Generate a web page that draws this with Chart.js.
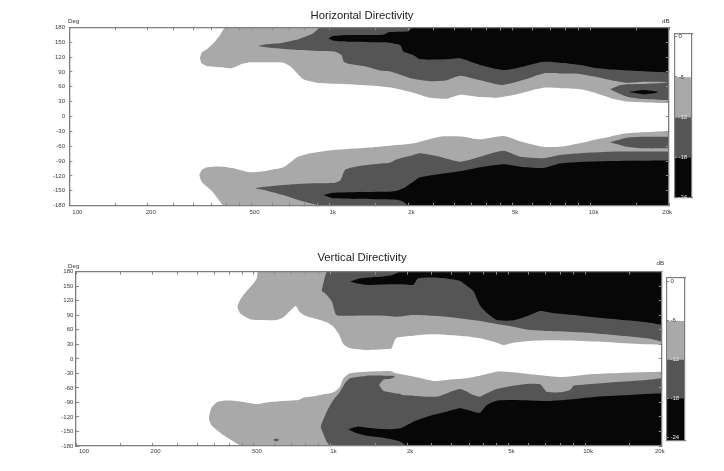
<!DOCTYPE html>
<html><head><meta charset="utf-8">
<script src="https://cdn.jsdelivr.net/npm/chart.js@4/dist/chart.umd.min.js"></script>
<style>
html,body{margin:0;padding:0;background:#fff}
body{width:724px;height:471px;overflow:hidden;position:relative;font-family:"Liberation Sans",Arial,sans-serif}
canvas{position:absolute}
.lbl{position:absolute;font-size:6.2px;line-height:7px;color:#333;white-space:nowrap}
</style></head><body>
<canvas id="hChart" width="724" height="235" style="left:0;top:0"></canvas>
<canvas id="hBar" width="19" height="179" style="left:674px;top:26px"></canvas>
<canvas id="vChart" width="724" height="226" style="left:0;top:245px"></canvas>
<canvas id="vBar" width="20" height="178" style="left:666px;top:270px"></canvas>
<div class="lbl" style="left:68px;top:16.5px">Deg</div>
<div class="lbl" style="left:662px;top:16.5px">dB</div>
<div class="lbl" style="left:68px;top:261.5px">Deg</div>
<div class="lbl" style="left:656.5px;top:258.8px">dB</div>
<script>
// ---------- axis ticks ----------
const freqTicks = [100, 200, 500, 1000, 2000, 5000, 10000, 20000];
const freqTickLabels = ['100', '200', '500', '1k', '2k', '5k', '10k', '20k'];
const freqMinorTicks = [100,150,200,250,300,350,400,450,500,600,700,800,900,1000,1500,2000,2500,3000,3500,4000,4500,5000,6000,7000,8000,9000,10000,15000,20000];
const angleTicks = [-180,-150,-120,-90,-60,-30,0,30,60,90,120,150,180];
const dbLevels = [0, -6, -12, -18, -24];

// ---------- Horizontal directivity (angle bands per frequency) ----------
const hLightPosF  = [317,322,337,357,379,396,419,459,494,662,702,745,791,890,1194,1557,1805,2089,2422,2806,3157,3767,4365,5056,5861,6594,7638,9120,10400,12000,14000,20000];
const hLightPosLo = [117,107.3,101.9,100.6,99.2,98.5,97.2,105.9,109.3,108.6,101.9,88.5,75,68.3,65,60.8,56.2,48.1,38,36,44,39.3,38,43.4,52.1,58.2,57,55,48,37,30,27];
const hLightPosHi = [117,128.8,135.5,147.6,164.5,180,180,180,180,180,180,180,180,180,180,180,180,180,180,180,180,180,180,180,180,180,180,180,180,180,180,180];

const hDarkPosF  = [530,572,662,757,864,918,1049,1108,1131,1194,1384,1557,1700,1805,2089,2422,2806,3157,3767,4365,4629,5500,6594,7638,9120,10250,11880,13800,16000,18000,20000];
const hDarkPosLo = [142.3,139.6,136.2,134.2,132.8,132.2,130.8,124.1,110.7,105.9,100.6,93,91,87,76,71,73,82,73,65,63.6,73.6,87,87,86,81,73.6,68,70,70,68];
const hDarkPosHi = [142.3,145.6,149,155.7,167.8,180,180,180,180,180,180,180,180,180,180,180,180,180,180,180,180,180,180,180,180,180,180,180,180,180,180];

const hIslandPosF  = [11880,12800,13800,16000,18000,20000];
const hIslandPosLo = [55,47,40,35.3,34,33.3];
const hIslandPosHi = [55,62,65,65.6,67,68];

const hSpotPosF  = [14000,15900,17500,18200];
const hSpotPosLo = [49.4,45,47,49.4];
const hSpotPosHi = [49.4,53.5,51.5,49.4];

const hBlackPosF  = [986,1031,1194,1603,1680,1860,1913,2000,2089,2218,2806,3157,3767,4629,5500,6594,7863,9120,10500,12000,15000,20000];
const hBlackPosLo = [157.7,153,151,149.7,149,144.3,131,127,124.1,115.4,115.4,117.4,104,93.8,100.6,110.6,108,104,98,95,92,89];
const hBlackPosHi = [157.7,162.4,164.4,165.1,170,171,171,172,180,180,180,180,180,180,180,180,180,180,180,180,180,180];

const hLightNegF  = [315,322,337,357,379,391,426,494,572,662,702,745,842,1031,1384,1557,2089,2640,3250,3767,4629,5440,6594,7638,9120,10250,11880,13770,20000];
const hLightNegHi = [-118,-108,-102.6,-101.2,-101.2,-101.5,-104.6,-112.7,-109.3,-102.6,-93.3,-82.5,-74.3,-67.6,-62.9,-61,-54.2,-40.7,-40.7,-46.1,-39.4,-50.8,-60.9,-61,-54,-47.4,-40.8,-34,-29.3];
const hLightNegLo = [-118,-131.5,-141.5,-153.7,-171.9,-180,-180,-180,-180,-180,-180,-180,-180,-180,-180,-180,-180,-180,-180,-180,-180,-180,-180,-180,-180,-180,-180,-180,-180];

const hDarkNegF  = [516,572,662,757,864,918,1049,1100,1125,1150,1250,1603,1700,1805,2089,2218,2640,3157,3767,4629,5380,6594,7638,9120,11880,20000];
const hDarkNegHi = [-145,-141.5,-138.3,-136.2,-134.9,-134.5,-133.5,-128,-114.6,-106.6,-101.2,-94.5,-93.3,-86.5,-77.7,-74.3,-81.1,-91.2,-81.1,-69,-81.1,-84,-77.7,-74,-71,-71];
const hDarkNegLo = [-145,-149.6,-158.4,-168.4,-176.5,-180,-180,-180,-180,-180,-180,-180,-180,-180,-180,-180,-180,-180,-180,-180,-180,-180,-180,-180,-180,-180];

const hIslandNegF  = [11880,13800,16000,20000];
const hIslandNegHi = [-52,-42.8,-40.8,-40.8];
const hIslandNegLo = [-52,-61,-64.3,-64.3];

const hBlackNegF  = [944,1031,1603,1700,1805,1913,2000,2089,2218,2640,3250,3767,4629,5380,6594,7638,9120,12000,20000];
const hBlackNegHi = [-158.4,-153.7,-151.7,-151.7,-150,-145,-138,-131.5,-122.8,-116,-109.3,-102.6,-96.5,-101.2,-104,-95,-92,-90,-89];
const hBlackNegLo = [-158.4,-165.1,-167.2,-167.5,-168,-172,-180,-180,-180,-180,-180,-180,-180,-180,-180,-180,-180,-180,-180];

// ---------- Vertical directivity ----------
const vLightPosF  = [430,441,455,469,483,497,513,520,615,653,693,730,755,800,883,966,1026,1074,1124,1193,1387,1613,1713,1740,1770,1820,2116,2460,2861,3380,3867,4498,4775,5228,6078,7070,9556,12920,17480,20000];
const vLightPosLo = [107.8,94,89,85,82,81,80.2,80.2,80.2,85.7,98.8,109.2,97.4,88.5,82.3,75.4,66.4,52.7,30,21.8,18.3,19.7,21,22,33,43.8,47.9,50.6,49.3,46.5,42.4,33.4,28.6,33.4,36.8,38.2,36.8,34,30,28.6];
const vLightPosHi = [107.8,121.5,132,140,148,155,166,180,180,180,180,180,180,180,180,180,180,180,180,180,180,180,180,180,180,180,180,180,180,180,180,180,180,180,180,180,180,180,180,180];

const vDarkPosF  = [923,966,1013,1055,1193,1613,1820,2116,2460,2861,3380,3867,4498,5228,6078,7070,9556,12920,17480,20000];
const vDarkPosLo = [140.8,131.9,118,90.6,89.2,89.2,87.1,90.6,89.2,87.1,82.3,78.2,72,66.5,59.6,57.5,54.8,49.3,42.4,35.5];
const vDarkPosHi = [140.8,180,180,180,180,180,180,180,180,180,180,180,180,180,180,180,180,180,180,180];

const vBlackPosF  = [1193,1300,1387,1613,1750,1880,2116,2200,2460,2861,3227,3450,3640,3867,4110,4498,5228,6078,6656,7600,9556,12920,17480,20000];
const vBlackPosLo = [159.4,155,152.5,153.5,154,154,153,166,168,166,161,150,140,110,95,80,79.6,90.6,98.8,94,89.2,82.3,75.4,70];
const vBlackPosHi = [159.4,166,167.6,170,173,180,180,180,180,180,180,180,180,180,180,180,180,180,180,180,180,180,180,180];

const vLightNegF  = [332,340,357,379,413,448,513,561,653,746,782,883,1026,1089,1124,1193,1387,1713,1750,1790,2116,2530,2861,3380,3867,4498,5228,6078,7070,8217,10780,14580,20000];
const vLightNegHi = [-122.9,-102.2,-89.8,-86.4,-86.4,-88.4,-93.3,-89.9,-87.1,-85,-80.2,-76,-69.2,-57.4,-40.2,-29.9,-26.5,-25.2,-26.5,-29.3,-36.7,-45.6,-43.6,-40.2,-34.7,-26.5,-27.9,-32,-35.4,-37.5,-31.3,-28.5,-26.5];
const vLightNegLo = [-122.9,-136.6,-147,-157.3,-169.7,-180,-180,-180,-180,-180,-180,-180,-180,-180,-180,-180,-180,-180,-180,-180,-180,-180,-180,-180,-180,-180,-180,-180,-180,-180,-180,-180,-180];

const vDarkNegF  = [913,935,966,997,1026,1089,1140,1193,1387,1613,1713,1780,1880,2116,2614,3227,3640,3867,4110,4498,5228,6078,6656,6856,7070,7976,8734,8995,9556,12920,17480,20000];
const vDarkNegHi = [-140,-126.3,-109.1,-95.3,-84.9,-67.8,-50.6,-40.2,-34.7,-34.7,-35,-36,-72.6,-76,-78.1,-62.3,-74.7,-78.1,-71.3,-62.3,-55.4,-51.3,-52.6,-60,-67.8,-69.2,-64.4,-55.4,-54,-48.5,-43.7,-40.2];
const vDarkNegLo = [-140,-153.7,-171.1,-180,-180,-180,-180,-180,-180,-180,-180,-180,-180,-180,-180,-180,-180,-180,-180,-180,-180,-180,-180,-180,-180,-180,-180,-180,-180,-180,-180,-180];

const vBulgeNegF  = [1550,1613,1713,1790,1880];
const vBulgeNegLo = [-54,-66,-69,-71,-72.6];
const vBulgeNegHi = [-54,-43,-41,-38,-36];

const vDotNegF  = [595,612,630];
const vDotNegLo = [-167.5,-170.5,-167.5];
const vDotNegHi = [-167.5,-164.5,-167.5];

const vBlackNegF  = [1170,1270,1387,1613,1713,1880,2000,2116,2460,2861,3227,3640,3867,4110,4498,5228,7070,8217,11110,15020,20000];
const vBlackNegHi = [-145.5,-140,-142.1,-144.9,-145.6,-143.5,-136.6,-129.7,-117.4,-109.1,-102.2,-109.1,-111.2,-95.3,-86.4,-85,-87.1,-85,-78.1,-74.7,-71.2];
const vBlackNegLo = [-145.5,-153.7,-158.6,-162.8,-165.6,-171.1,-180,-180,-180,-180,-180,-180,-180,-180,-180,-180,-180,-180,-180,-180,-180];

// ---------- styling ----------
const LIGHT = '#a9a9a9', DARK = '#555555', BLACK = '#070707', WHITE = '#ffffff';
const FRAME = '#7d7d7d', TICKC = '#8c8c8c', TXT = '#3a3a3a';
const FONT = 'Liberation Sans';

function band(f, lo, hi, color, order) {
  const common = {pointRadius: 0, pointHitRadius: 0, borderWidth: 0, borderColor: 'transparent', tension: 0.2, order: order};
  return [
    Object.assign({}, common, {data: f.map((x, i) => ({x: x, y: lo[i]})), fill: false}),
    Object.assign({}, common, {data: f.map((x, i) => ({x: x, y: hi[i]})), fill: '-1', backgroundColor: color})
  ];
}

function makeMain(id, title, bands, g) {
  const datasets = [];
  bands.forEach(b => datasets.push(...band(b[0], b[1], b[2], b[3], b[4])));
  const gridOpt = {display: true, drawOnChartArea: false, drawTicks: true, tickLength: -3, color: TICKC, lineWidth: 1, z: 1};
  const borderOpt = {display: true, color: FRAME, width: 1.3, z: 2};
  const tickFont = {family: FONT, size: 6};
  const setFreqTicks = s => { s.ticks = freqMinorTicks.map(v => ({value: v})); };
  const setAngleTicks = s => { s.ticks = angleTicks.map(v => ({value: v})); };
  new Chart(document.getElementById(id), {
    type: 'line',
    data: {datasets: datasets},
    options: {
      responsive: false, animation: false, events: [],
      layout: {padding: 0},
      plugins: {
        legend: {display: false}, tooltip: {enabled: false},
        title: {display: true, text: title, color: '#222',
          font: {family: FONT, size: 11.3, weight: 'normal', lineHeight: 1.2},
          padding: {top: g.tpT, bottom: g.tpB}}
      },
      scales: {
        x: {type: 'logarithmic', position: 'bottom', min: 100, max: 20000,
          afterBuildTicks: setFreqTicks,
          afterFit: s => { s.height = g.h - g.bottom; },
          ticks: {autoSkip: false, maxRotation: 0, minRotation: 0, align: 'inner', labelOffset: 3,
            padding: g.xPad, color: TXT, font: tickFont, z: 2,
            callback: v => { const k = freqTicks.indexOf(v); return k >= 0 ? freqTickLabels[k] : ''; }},
          grid: gridOpt, border: borderOpt},
        x2: {type: 'logarithmic', position: 'top', min: 100, max: 20000,
          afterBuildTicks: setFreqTicks,
          afterFit: s => { s.height = 0; },
          ticks: {display: false}, grid: gridOpt, border: borderOpt},
        y: {type: 'linear', position: 'left', min: -180, max: 180,
          afterBuildTicks: setAngleTicks,
          afterFit: s => { s.width = g.left; },
          ticks: {padding: g.yPad, color: TXT, font: tickFont, z: 2, callback: v => String(v)},
          grid: gridOpt, border: borderOpt},
        y2: {type: 'linear', position: 'right', min: -180, max: 180,
          afterBuildTicks: setAngleTicks,
          afterFit: s => { s.width = g.w - g.right; },
          ticks: {display: false}, grid: gridOpt, border: borderOpt}
      }
    }
  });
}

function makeBar(id, min, max, pad) {
  const colors = [WHITE, LIGHT, DARK, BLACK];
  const datasets = colors.map((c, i) => ({
    data: [[i === 0 ? max : dbLevels[i], i === 3 ? min : dbLevels[i + 1]]],
    backgroundColor: c, borderWidth: 0, grouped: false, barPercentage: 1, categoryPercentage: 1
  }));
  const borderOpt = {display: true, color: FRAME, width: 1.2, z: 2};
  new Chart(document.getElementById(id), {
    type: 'bar',
    data: {labels: ['dB'], datasets: datasets},
    options: {
      responsive: false, animation: false, events: [],
      layout: {padding: pad},
      plugins: {legend: {display: false}, tooltip: {enabled: false}, title: {display: false}},
      scales: {
        x: {type: 'category', position: 'bottom', ticks: {display: false}, grid: {display: false},
          border: borderOpt, afterFit: s => { s.height = 0; }},
        x2: {type: 'category', position: 'top', labels: ['dB'], ticks: {display: false}, grid: {display: false},
          border: borderOpt, afterFit: s => { s.height = 0; }},
        y: {type: 'linear', position: 'left', min: min, max: max,
          afterBuildTicks: s => { s.ticks = dbLevels.map(v => ({value: v})); },
          afterFit: s => { s.width = 0; },
          ticks: {mirror: true, padding: 3.5, font: {family: FONT, size: 6}, z: 3,
            color: ctx => (ctx.tick && ctx.tick.value <= -12) ? '#e6e6e6' : '#333',
            callback: v => String(v)},
          grid: {display: true, drawOnChartArea: false, drawTicks: true, tickLength: -2, color: TICKC, z: 2},
          border: borderOpt},
        y2: {type: 'linear', position: 'right', min: min, max: max, ticks: {display: false},
          grid: {display: false}, border: borderOpt, afterFit: s => { s.width = 0; }}
      }
    }
  });
}

makeMain('hChart', 'Horizontal Directivity', [
  [hLightPosF, hLightPosLo, hLightPosHi, LIGHT, 10],
  [hLightNegF, hLightNegLo, hLightNegHi, LIGHT, 10],
  [hDarkPosF, hDarkPosLo, hDarkPosHi, DARK, 8],
  [hDarkNegF, hDarkNegLo, hDarkNegHi, DARK, 8],
  [hIslandPosF, hIslandPosLo, hIslandPosHi, DARK, 7],
  [hIslandNegF, hIslandNegLo, hIslandNegHi, DARK, 7],
  [hBlackPosF, hBlackPosLo, hBlackPosHi, BLACK, 6],
  [hBlackNegF, hBlackNegLo, hBlackNegHi, BLACK, 6],
  [hSpotPosF, hSpotPosLo, hSpotPosHi, BLACK, 5]
], {w: 724, h: 235, left: 69.3, right: 669, bottom: 205.7, tpT: 8.9, tpB: 4.84, xPad: 6.2, yPad: 7.3});

makeMain('vChart', 'Vertical Directivity', [
  [vLightPosF, vLightPosLo, vLightPosHi, LIGHT, 10],
  [vLightNegF, vLightNegLo, vLightNegHi, LIGHT, 10],
  [vDarkPosF, vDarkPosLo, vDarkPosHi, DARK, 8],
  [vDarkNegF, vDarkNegLo, vDarkNegHi, DARK, 8],
  [vBulgeNegF, vBulgeNegLo, vBulgeNegHi, LIGHT, 7],
  [vDotNegF, vDotNegLo, vDotNegHi, DARK, 7],
  [vBlackPosF, vBlackPosLo, vBlackPosHi, BLACK, 6],
  [vBlackNegF, vBlackNegLo, vBlackNegHi, BLACK, 6]
], {w: 724, h: 226, left: 76, right: 661.7, bottom: 201, tpT: 6.5, tpB: 6.64, xPad: 4.9, yPad: 5.7});

makeBar('hBar', -24.05, 0.53, 1);
makeBar('vBar', -24.6, 0.72, 1);
</script>
</body></html>
